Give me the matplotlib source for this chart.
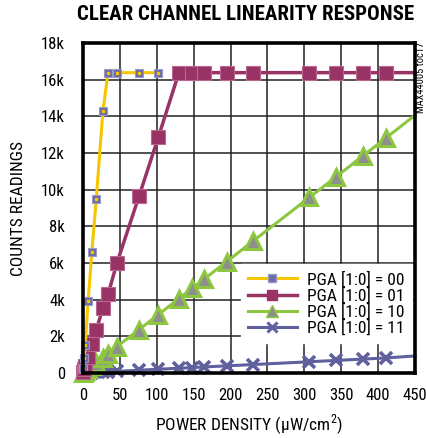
import matplotlib
matplotlib.use("Agg")
import matplotlib.pyplot as plt
from matplotlib.lines import Line2D

plt.rcParams['font.family'] = ['Roboto Condensed', 'DejaVu Sans']

# ---- data ----
x_all = [0.5, 1.5, 3, 7, 12, 18, 27, 34, 46, 76, 102, 130, 148, 164, 195, 230, 307, 343, 379, 411, 450]
pga00_x = [0.5, 1.5, 3, 7, 12, 18, 27, 34, 46, 76, 102]
pga00_y = [250, 800, 1550, 3950, 6600, 9500, 14300, 16383, 16383, 16383, 16383]
pga01_y = [70, 200, 390, 900, 1600, 2350, 3550, 4300, 6000, 9650, 12850, 16383, 16383, 16383, 16383,
           16383, 16383, 16383, 16383, 16383, 16383]
pga10_y = [16, 47, 94, 220, 375, 560, 845, 1060, 1440, 2370, 3180, 4060, 4620, 5120, 6080, 7180,
           9580, 10700, 11830, 12830, 14060]
pga11_y = [1, 3, 6, 14, 24, 36, 54, 68, 92, 152, 204, 260, 296, 330, 390, 460, 614, 686, 758, 822, 930]

labels = ["PGA [1:0] = 00", "PGA [1:0] = 01", "PGA [1:0] = 10", "PGA [1:0] = 11"]
xticks = [0, 50, 100, 150, 200, 250, 300, 350, 400, 450]
yticks = [0, 2000, 4000, 6000, 8000, 10000, 12000, 14000, 16000, 18000]
yticklabels = ["0", "2k", "4k", "6k", "8k", "10k", "12k", "14k", "16k", "18k"]

c_yel = "#F7C600"
c_slate = "#6C6CA6"
c_pur = "#993366"
c_grn = "#8DC63F"
c_gray = "#8E8E8E"
c_blu = "#60609E"

fig = plt.figure(figsize=(4.27, 4.38), dpi=100)
ax = fig.add_axes([83/427, 1-373/438, 332/427, 330/438])

ax.set_xlim(0, 450)
ax.set_ylim(0, 18000)
ax.set_xticks(xticks)
ax.set_yticks(yticks)
ax.set_yticklabels(yticklabels)
ax.grid(True, color="#222222", lw=1.1)
ax.set_axisbelow(True)
ax.tick_params(axis="y", length=0, labelsize=12, pad=13)
ax.tick_params(axis="x", length=0, labelsize=12, pad=11)
for s in ax.spines.values():
    s.set_linewidth(2.6)
    s.set_color("black")
    s.set_zorder(10)

mk = slice(0, -1)
# PGA 11
ax.plot(x_all, pga11_y, color=c_blu, lw=2.2, marker="x", ms=9, mew=2.6, mec=c_blu,
        markevery=mk, clip_on=False, zorder=3)
# PGA 10
ax.plot(x_all, pga10_y, color=c_grn, lw=2.2, marker="^", ms=11.5, mfc=c_gray, mec=c_grn, mew=2.2,
        markevery=mk, clip_on=False, zorder=4)
# PGA 01
ax.plot(x_all, pga01_y, color=c_pur, lw=2.5, marker="s", ms=9.5, mfc=c_pur, mec="#B86890", mew=0.8,
        markevery=mk, clip_on=False, zorder=5)
# PGA 00
ax.plot(pga00_x, pga00_y, color=c_yel, lw=2.2, marker="s", ms=6, mfc=c_slate, mec="#9A9AC8", mew=0.8,
        clip_on=False, zorder=6)
ax.plot(pga00_x, pga00_y, ls="none", marker="s", ms=1.8, mfc=c_yel, mec=c_yel, clip_on=False, zorder=7)

handles = [
    Line2D([], [], color=c_yel, lw=2.2, marker="s", ms=6, mfc=c_slate, mec="#9A9AC8"),
    Line2D([], [], color=c_pur, lw=2.5, marker="s", ms=7, mfc=c_pur, mec=c_pur),
    Line2D([], [], color=c_grn, lw=2.2, marker="^", ms=8, mfc=c_gray, mec=c_grn),
    Line2D([], [], color=c_blu, lw=2.2, marker="x", ms=7, mew=2.2, mec=c_blu),
]
leg = ax.legend(handles, labels, loc="lower right", bbox_to_anchor=(1.0, 0.08),
                frameon=True, fontsize=12.5, handlelength=2.8, handletextpad=0.6,
                labelspacing=0.0, borderpad=0.4, borderaxespad=0.2, fancybox=False)
leg.get_frame().set_edgecolor("white")
leg.get_frame().set_facecolor("white")
leg.get_frame().set_alpha(1)
leg.set_zorder(8)

ax.set_xlabel("POWER DENSITY (µW/cm$^\\mathregular{2}$)", fontsize=12.5, labelpad=7)
ax.set_ylabel("COUNTS READINGS", fontsize=12.5, labelpad=11)
fig.text(246/427, 1-15/438, "CLEAR CHANNEL LINEARITY RESPONSE", ha="center", va="center",
         fontsize=15, fontweight="black")
fig.text(421/427, 1-42/438, "MAX44005 toc17", rotation=90, ha="center", va="top", fontsize=7.5)

fig.savefig("out.png", dpi=100)
